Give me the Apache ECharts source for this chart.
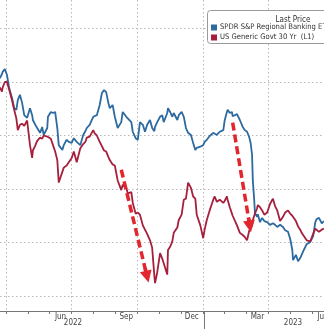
<!DOCTYPE html>
<html><head><meta charset="utf-8">
<script src="https://cdn.jsdelivr.net/npm/echarts@6/dist/echarts.min.js"></script>
<style>html,body{margin:0;padding:0;background:#fff}#c{width:324px;height:329px}</style>
</head><body><div id="c"></div>
<script>
const dates = ['2022-03-23','2022-03-26','2022-03-27','2022-03-30','2022-04-02','2022-04-05','2022-04-09','2022-04-12','2022-04-15','2022-04-17','2022-04-20','2022-04-23','2022-04-26','2022-04-30','2022-05-04','2022-05-07','2022-05-08','2022-05-11','2022-05-14','2022-05-18','2022-05-21','2022-05-23','2022-05-28','2022-05-29','2022-06-02','2022-06-05','2022-06-08','2022-06-11','2022-06-13','2022-06-18','2022-06-20','2022-06-24','2022-06-27','2022-07-01','2022-07-04','2022-07-08','2022-07-13','2022-07-17','2022-07-20','2022-07-22','2022-07-26','2022-07-31','2022-08-02','2022-08-05','2022-08-09','2022-08-12','2022-08-15','2022-08-18','2022-08-21','2022-08-23','2022-08-27','2022-08-30','2022-09-03','2022-09-08','2022-09-10','2022-09-15','2022-09-17','2022-09-22','2022-09-24','2022-09-28','2022-10-01','2022-10-04','2022-10-08','2022-10-11','2022-10-14','2022-10-18','2022-10-21','2022-10-24','2022-10-25','2022-10-28','2022-11-01','2022-11-04','2022-11-06','2022-11-11','2022-11-12','2022-11-15','2022-11-18','2022-11-20','2022-11-25','2022-11-27','2022-12-01','2022-12-04','2022-12-07','2022-12-10','2022-12-14','2022-12-17','2022-12-20','2022-12-22','2022-12-27','2022-12-31','2023-01-02','2023-01-05','2023-01-09','2023-01-14','2023-01-16','2023-01-19','2023-01-23','2023-01-28','2023-01-30','2023-02-02','2023-02-03','2023-02-06','2023-02-09','2023-02-10','2023-02-16','2023-02-20','2023-02-24','2023-02-27','2023-03-02','2023-03-05','2023-03-07','2023-03-09','2023-03-10','2023-03-12','2023-03-13','2023-03-16','2023-03-17','2023-03-20','2023-03-23','2023-03-26','2023-03-30','2023-04-03','2023-04-07','2023-04-10','2023-04-13','2023-04-17','2023-04-21','2023-04-24','2023-04-28','2023-05-01','2023-05-04','2023-05-05','2023-05-09','2023-05-12','2023-05-15','2023-05-17','2023-05-20','2023-05-24','2023-05-29','2023-06-02','2023-06-05','2023-06-07','2023-06-10','2023-06-14','2023-06-17'];
const kre = [70.7,71.5,71.9,72.4,71.3,68.9,67.0,65.1,64.8,66.6,67.6,66.1,63.8,63.3,65.1,63.8,62.9,62.1,61.4,60.5,61.6,60.1,61.4,63.5,64.4,64.2,64.4,61.4,58.2,57.3,58.2,59.2,58.8,58.6,59.5,58.8,58.2,60.1,60.8,61.4,62.0,63.5,63.6,63.8,65.7,67.9,68.5,68.1,66.1,65.1,65.7,63.5,61.4,62.5,64.4,63.5,63.3,62.5,60.7,59.5,59.2,62.5,62.0,60.7,62.0,62.9,61.4,60.8,61.6,62.5,63.5,63.8,62.5,64.2,65.1,64.4,63.5,64.2,62.9,63.8,64.4,63.5,61.4,60.5,60.1,58.6,57.3,57.7,57.9,58.2,58.8,59.2,59.9,60.5,60.3,60.1,60.7,61.0,62.9,64.4,64.8,64.2,64.4,63.6,64.0,62.9,61.6,61.0,60.7,59.7,58.6,56.4,51.7,47.9,45.5,44.8,45.3,43.8,44.6,44.0,43.8,43.3,43.6,43.3,42.9,43.3,42.9,42.3,42.0,40.7,38.6,36.7,37.7,36.5,37.1,37.1,38.6,39.7,40.1,41.2,43.8,44.4,44.6,43.6,44.0];
const ust30 = [2.55,2.59,2.55,2.50,2.50,2.57,2.67,2.76,2.84,2.95,2.90,2.89,2.91,2.86,3.09,3.21,3.14,3.10,3.05,3.02,3.03,3.00,3.01,3.00,3.03,3.09,3.15,3.23,3.44,3.34,3.30,3.28,3.25,3.21,3.15,3.25,3.12,3.08,3.06,3.02,3.01,2.95,2.98,3.00,3.06,3.10,3.14,3.15,3.20,3.23,3.27,3.28,3.42,3.51,3.46,3.49,3.54,3.53,3.63,3.73,3.72,3.74,3.84,3.88,3.92,3.98,4.05,4.31,4.38,4.28,4.10,4.15,4.14,4.30,4.07,4.04,3.99,3.91,3.86,3.79,3.74,3.60,3.59,3.44,3.49,3.57,3.59,3.74,3.84,3.96,3.88,3.79,3.70,3.60,3.57,3.62,3.60,3.63,3.61,3.57,3.60,3.67,3.73,3.75,3.84,3.91,3.93,3.95,3.98,3.89,3.87,3.84,3.79,3.75,3.73,3.68,3.65,3.67,3.70,3.74,3.72,3.64,3.59,3.66,3.70,3.80,3.76,3.72,3.70,3.73,3.75,3.76,3.80,3.85,3.88,3.91,3.94,3.98,3.99,3.92,3.87,3.87,3.90,3.88,3.87];

const monthCats = ['2022-03','2022-04','2022-05','2022-06','2022-07','2022-08','2022-09','2022-10','2022-11','2022-12','2023-01','2023-02','2023-03','2023-04','2023-05','2023-06'];
const monthNames = ['Jan','Feb','Mar','Apr','May','Jun','Jul','Aug','Sep','Oct','Nov','Dec'];
const shownMonthLabels = ['2022-06','2022-09','2022-12','2023-03','2023-06'];
const yearLabels = ['2022','2023'];
const legendTitle = 'Last Price';
const kreName = 'SPDR S&P Regional Banking ETF';
const ustName = 'US Generic Govt 30 Yr  (L1)';

const arrowStartDates = ['2022-09-08','2023-02-10'];
const arrowStartVals = [3.32, 2.88];
const arrowEndDates = ['2022-10-14','2023-03-06'];
const arrowEndVals = [4.32, 3.85];

const FONT = "'Liberation Sans Narrow','DejaVu Sans Condensed','Liberation Sans',sans-serif";
const ts = s => +new Date(s + 'T00:00:00Z');
const ARROW = '#e2262d';

const chart = echarts.init(document.getElementById('c'), null, {renderer:'canvas'});
const dotted = {color:'#b8b8b8', width:1, type:[1.5,2.5]};

// dashed shafts
const shafts = arrowStartDates.map((d,i)=>[
  {coord:[ts(d), arrowStartVals[i]], symbol:'none'},
  {coord:[ts(arrowEndDates[i]), arrowEndVals[i]], symbol:'none'}
]);
// solid short head segments (last 8% of each arrow) carrying the triangle
const heads = arrowStartDates.map((d,i)=>{
  const t0 = ts(d), t1 = ts(arrowEndDates[i]);
  const v0 = arrowStartVals[i], v1 = arrowEndVals[i];
  const f = 0.92;
  return [
    {coord:[t0+(t1-t0)*f, v0+(v1-v0)*f], symbol:'none'},
    {coord:[t1, v1], symbol:'triangle', symbolSize:12}
  ];
});

chart.setOption({
  animation:false,
  backgroundColor:'#fff',
  grid:[
    {left:-16, right:-10, top:-25, bottom:-20.5, containLabel:false, outerBoundsMode:'none'},
    {left:-16, right:-10, top:0, bottom:18, containLabel:false, outerBoundsMode:'none'}
  ],
  xAxis:[
    {type:'time', gridIndex:0, min:ts('2022-03-01'), max:ts('2023-07-01'), show:false},
    {type:'category', gridIndex:1, data:monthCats, boundaryGap:true,
      axisLine:{show:true, lineStyle:{color:'#777', width:1}},
      axisTick:{show:true, interval:0, length:3, lineStyle:{color:'#777'}},
      axisLabel:{show:true, interval:(i,v)=>shownMonthLabels.indexOf(v)>=0, margin:2,
        fontSize:8, color:'#444', fontFamily:FONT,
        formatter:v=>monthNames[parseInt(v.slice(5),10)-1]},
      splitLine:{show:true, interval:(i)=>i%3===1, lineStyle:dotted}
    }
  ],
  yAxis:[
    {type:'value', gridIndex:0, inverse:true, min:1.5, max:5.0, interval:0.5, show:true,
      axisLine:{show:false}, axisTick:{show:false}, axisLabel:{show:false}, splitLine:{show:false}},
    {type:'value', gridIndex:0, min:20, max:90, interval:10, show:true, position:'right',
      axisLine:{show:false}, axisTick:{show:false}, axisLabel:{show:false},
      splitLine:{show:true, lineStyle:dotted}},
    {type:'value', gridIndex:1, show:false}
  ],
  legend:{
    z:100, zlevel:0,
    orient:'vertical', left:211, top:23, padding:0, itemGap:1,
    itemWidth:6, itemHeight:6, icon:'rect', itemStyle:{borderWidth:0},
    textStyle:{fontSize:7.6, color:'#333', fontFamily:FONT, padding:[0,0,0,-2], lineHeight:9},
    data:[kreName, ustName], selectedMode:false
  },
  graphic:[
    {type:'rect', z:50, shape:{x:207.5, y:10.5, width:140, height:33, r:3},
      style:{fill:'#fff', stroke:'#9a9a9a', lineWidth:1}},
    {type:'text', z:91, x:293, y:20, style:{text:legendTitle, fontSize:8, fill:'#333', fontFamily:FONT, align:'center', verticalAlign:'middle'}},
    {type:'text', z:91, x:73, y:323, style:{text:yearLabels[0], fontSize:8, fill:'#444', fontFamily:FONT, align:'center', verticalAlign:'middle'}},
    {type:'text', z:91, x:293, y:323, style:{text:yearLabels[1], fontSize:8, fill:'#444', fontFamily:FONT, align:'center', verticalAlign:'middle'}},
    {type:'line', z:91, shape:{x1:204.5, y1:311, x2:204.5, y2:329}, style:{stroke:'#777', lineWidth:1}}
  ],
  series:[
    {name:kreName, type:'line', xAxisIndex:0, yAxisIndex:1, showSymbol:false, symbol:'none',
      data:dates.map((d,i)=>[ts(d), kre[i]]), itemStyle:{color:'#2d6a9f'},
      lineStyle:{color:'#2d6a9f', width:1.8}, z:3},
    {name:ustName, type:'line', xAxisIndex:0, yAxisIndex:0, showSymbol:false, symbol:'none',
      data:dates.map((d,i)=>[ts(d), ust30[i]]), itemStyle:{color:'#a61f3c'},
      lineStyle:{color:'#a61f3c', width:1.8}, z:4,
      markLine:{silent:true, symbol:'none', animation:false,
        label:{show:false}, lineStyle:{color:ARROW, width:3.5, type:[8,4]},
        data:shafts}
    },
    {name:'arrowheads', type:'line', xAxisIndex:0, yAxisIndex:0, data:[], z:5,
      markLine:{silent:true, animation:false, symbol:['none','triangle'], symbolSize:12,
        label:{show:false}, lineStyle:{color:ARROW, width:3.5, type:'solid'},
        itemStyle:{color:ARROW},
        data:heads}
    }
  ]
});
</script></body></html>
